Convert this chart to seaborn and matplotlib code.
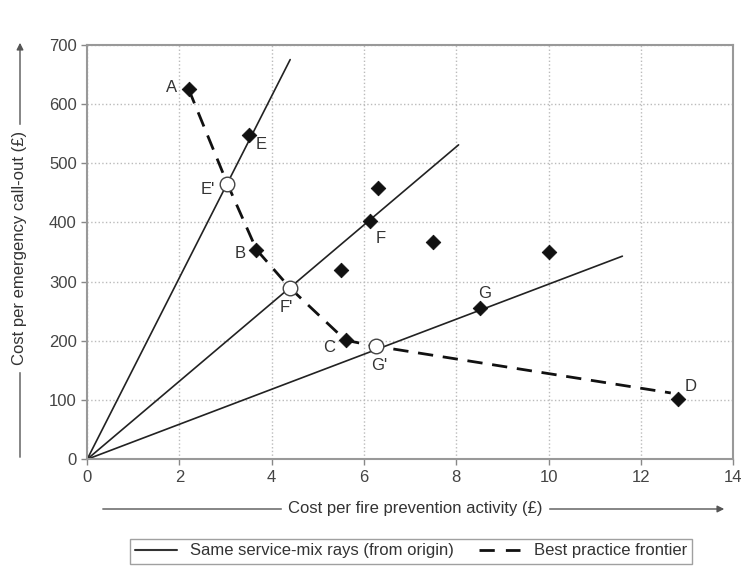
import matplotlib
matplotlib.use("Agg")
import matplotlib.pyplot as plt
import seaborn as sns
import pandas as pd
import numpy as np
from matplotlib.lines import Line2D

# Observed units (black diamonds)
obs_x = [2.2, 3.5, 3.67, 5.6, 12.8, 6.12, 8.52, 6.3, 5.5, 7.5, 10.0]
obs_y = [625, 548, 354, 201, 101, 403, 255, 458, 320, 367, 350]
obs_lab = ["A", "E", "B", "C", "D", "F", "G", "", "", "", ""]

# Projected points on frontier (open circles)
proj_x = [3.04, 4.4, 6.25]
proj_y = [465, 289, 191]
proj_lab = ["E'", "F'", "G'"]

# Rays from origin (end points)
ray_end_x = [4.4, 8.05, 11.6]
ray_end_y = [675, 531, 343]

# Best practice frontier path
front_x = [2.2, 3.04, 3.67, 4.4, 5.6, 6.25, 12.65]
front_y = [625, 465, 354, 289, 201, 191, 112]

# label offsets (points)
lab_off = {"A": (-12, 1), "E": (9, -7), "B": (-12, -3), "C": (-12, -5), "D": (9, 9),
           "F": (8, -13), "G": (3, 11), "E'": (-14, -4), "F'": (-3, -14), "G'": (3, -14)}

FS = 12

sns.set_theme(style="white")
plt.rcParams['font.family'] = ['Liberation Sans', 'DejaVu Sans']

fig = plt.figure(figsize=(7.45, 5.67), dpi=100)
ax = fig.add_axes([0.117, 0.190, 0.867, 0.731])

rays = []
for i, (ex, ey) in enumerate(zip(ray_end_x, ray_end_y)):
    rays.append(pd.DataFrame({"x": [0, ex], "y": [0, ey], "ray": i}))
rays = pd.concat(rays)
for i, g in rays.groupby("ray"):
    sns.lineplot(data=g, x="x", y="y", ax=ax, color="#222222", lw=1.2, sort=False,
                 estimator=None, zorder=2)

fr = pd.DataFrame({"x": front_x, "y": front_y})
sns.lineplot(data=fr, x="x", y="y", ax=ax, color="#111111", lw=2.0, sort=False,
             estimator=None, zorder=2, linestyle=(0, (5.5, 3.5)))

obs = pd.DataFrame({"x": obs_x, "y": obs_y})
sns.scatterplot(data=obs, x="x", y="y", ax=ax, marker="D", s=55, color="#111111",
                edgecolor="#111111", zorder=4)
pr = pd.DataFrame({"x": proj_x, "y": proj_y})
sns.scatterplot(data=pr, x="x", y="y", ax=ax, marker="o", s=110, color="white",
                edgecolor="#444444", linewidth=1.0, zorder=5)

for x, y, l in list(zip(obs_x, obs_y, obs_lab)) + list(zip(proj_x, proj_y, proj_lab)):
    if l:
        ax.annotate(l, (x, y), xytext=lab_off[l], textcoords="offset points",
                    ha="center", va="center", fontsize=FS, color="#333333")

ax.set_xlim(0, 14)
ax.set_ylim(0, 700)
ax.set_xticks(range(0, 15, 2))
ax.set_yticks(range(0, 701, 100))
ax.grid(True, color="#bbbbbb", linestyle=":", lw=1.0)
for s in ax.spines.values():
    s.set_color("#999999")
    s.set_linewidth(1.5)
ax.tick_params(axis="both", colors="#888888", labelcolor="#444444", labelsize=FS,
               length=4, width=1, direction="out", left=True, bottom=True)
ax.set_xlabel("")
ax.set_ylabel("")

# axis titles with arrows
fig.patches.append(matplotlib.patches.FancyArrowPatch((100/745, 1-509/567), (727/745, 1-509/567),
                   transform=fig.transFigure, arrowstyle="-|>", mutation_scale=10,
                   color="#555555", lw=1.0))
fig.text(415/745, 1-509/567, "Cost per fire prevention activity (£)", ha="center", va="center",
         fontsize=FS, color="#333333", backgroundcolor="white")
fig.patches.append(matplotlib.patches.FancyArrowPatch((20/745, 1-460/567), (20/745, 1-40/567),
                   transform=fig.transFigure, arrowstyle="-|>", mutation_scale=10,
                   color="#555555", lw=1.0))
fig.text(20/745, 1-248/567, "Cost per emergency call-out (£)", ha="center", va="center",
         rotation=90, fontsize=FS, color="#333333", backgroundcolor="white")

# legend
handles = [Line2D([], [], color="#333333", lw=1.5),
           Line2D([], [], color="#111111", lw=2.0, linestyle=(0, (5.5, 4)))]
leg = fig.legend(handles, ["Same service-mix rays (from origin)", "Best practice frontier"],
                 loc="center", bbox_to_anchor=(411/745, 1-551/567), ncol=2, frameon=True,
                 fontsize=FS, handlelength=2.5, columnspacing=1.5, fancybox=False,
                 borderpad=0.3)
leg.get_frame().set_edgecolor("#888888")
leg.get_frame().set_linewidth(1.0)
for t in leg.get_texts():
    t.set_color("#333333")

fig.savefig("out.png", dpi=100)
